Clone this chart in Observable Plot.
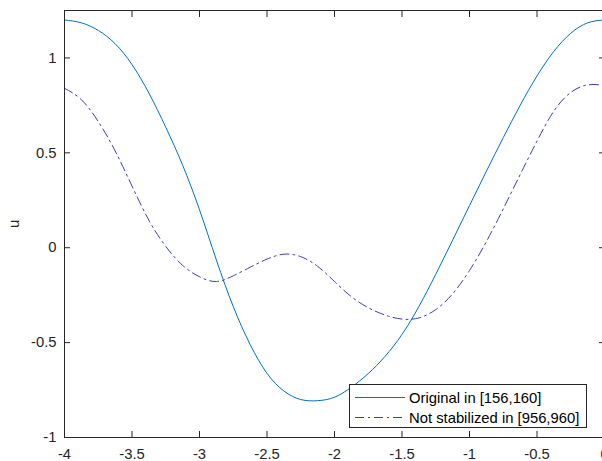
<!DOCTYPE html>
<html>
<head>
<meta charset="utf-8">
<script src="https://cdn.jsdelivr.net/npm/d3@7"></script>
<script src="https://cdn.jsdelivr.net/npm/@observablehq/plot@0.6"></script>
<style>
  html, body { margin: 0; padding: 0; background: #fff; overflow: hidden; }
  #wrap { position: relative; width: 602px; height: 461px; font-family: "Liberation Sans", Arial, Helvetica, sans-serif; }
  #legend { position: absolute; left: 349px; top: 384px; width: 236px; height: 42px; background: #fff; border: 1px solid #262626; box-sizing: content-box; }
  #legend .row { position: absolute; left: 0; height: 20px; font-size: 14.8px; color: #000; white-space: nowrap; }
  #legend svg { position: absolute; left: 5px; top: 0; }
  #legend span { position: absolute; left: 59px; top: 2px; line-height: 16px; }
</style>
</head>
<body>
<div id="wrap"></div>
<script>
const xs = [-4, -3.875, -3.75, -3.625, -3.5, -3.375, -3.25, -3.125, -3, -2.875, -2.75, -2.625, -2.5, -2.375, -2.25, -2.125, -2, -1.875, -1.75, -1.625, -1.5, -1.375, -1.25, -1.125, -1, -0.875, -0.75, -0.625, -0.5, -0.375, -0.25, -0.125, 0];
const original = [1.20, 1.185, 1.145, 1.075, 0.965, 0.815, 0.635, 0.435, 0.20, -0.065, -0.31, -0.51, -0.662, -0.755, -0.80, -0.806, -0.788, -0.735, -0.663, -0.572, -0.457, -0.31, -0.14, 0.04, 0.222, 0.403, 0.58, 0.75, 0.905, 1.035, 1.13, 1.185, 1.20];
const notStabilized = [0.84, 0.78, 0.665, 0.51, 0.325, 0.145, 0.007, -0.093, -0.153, -0.178, -0.148, -0.103, -0.06, -0.034, -0.047, -0.098, -0.178, -0.258, -0.316, -0.355, -0.376, -0.37, -0.326, -0.243, -0.12, 0.032, 0.205, 0.385, 0.562, 0.72, 0.818, 0.858, 0.855];
const seriesNames = ["Original in [156,160]", "Not stabilized in [956,960]"];
const xTicks = [-4, -3.5, -3, -2.5, -2, -1.5, -1, -0.5, 0];
const yTicks = [-1, -0.5, 0, 0.5, 1];
const yLabel = "u";

const colors = ["#0072BD", "#3a3fae"];
const dashes = [null, "9,4,2,4"];

const data = [];
xs.forEach((x, i) => {
  data.push({x, u: original[i], s: seriesNames[0]});
  data.push({x, u: notStabilized[i], s: seriesNames[1]});
});

const fmt = d => String(d);
const chart = Plot.plot({
  width: 602,
  height: 461,
  marginLeft: 64,
  marginRight: -2,
  marginTop: 10,
  marginBottom: 24,
  style: {fontFamily: '"Liberation Sans", Arial, Helvetica, sans-serif', fontSize: "14.8px", color: "#262626", background: "transparent"},
  x: {domain: [-4, 0]},
  y: {domain: [-1, 1.25]},
  marks: [
    Plot.line(data.filter(d => d.s === seriesNames[0]), {x: "x", y: "u", stroke: colors[0], strokeWidth: 1, curve: "natural"}),
    Plot.line(data.filter(d => d.s === seriesNames[1]), {x: "x", y: "u", stroke: colors[1], strokeWidth: 1, strokeDasharray: dashes[1], curve: "natural"}),
    Plot.frame({stroke: "#262626", strokeWidth: 1}),
    Plot.axisX({ticks: xTicks, tickSize: 0, tickPadding: 11, tickFormat: fmt, label: null, fill: "#262626"}),
    Plot.axisX({ticks: xTicks, tickSize: -6, fill: "none", stroke: "#262626", label: null}),
    Plot.axisX({ticks: xTicks, anchor: "top", tickSize: -6, fill: "none", stroke: "#262626", label: null}),
    Plot.axisY({ticks: yTicks, tickSize: 0, tickPadding: 8, tickFormat: fmt, fill: "#262626", label: yLabel, labelAnchor: "center", labelArrow: "none", labelOffset: 56}),
    Plot.axisY({ticks: yTicks, tickSize: -6, fill: "none", stroke: "#262626", label: null}),
    Plot.axisY({ticks: yTicks, anchor: "right", tickSize: -6, fill: "none", stroke: "#262626", label: null})
  ]
});

const wrap = document.getElementById("wrap");
wrap.appendChild(chart);

const legend = document.createElement("div");
legend.id = "legend";
seriesNames.forEach((name, i) => {
  const row = document.createElement("div");
  row.className = "row";
  row.style.top = (3 + i * 20) + "px";
  const dash = dashes[i] ? `stroke-dasharray="${dashes[i]}"` : "";
  row.innerHTML = `<svg width="52" height="20"><line x1="0" x2="50" y1="9.5" y2="9.5" stroke="${colors[i]}" stroke-width="1" ${dash}/></svg><span>${name}</span>`;
  legend.appendChild(row);
});
wrap.appendChild(legend);
</script>
</body>
</html>
